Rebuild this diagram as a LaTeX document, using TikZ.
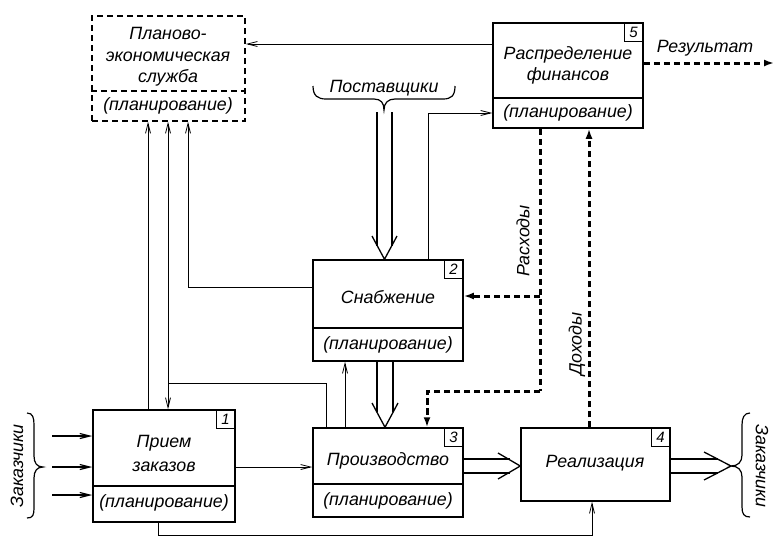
\documentclass[tikz,border=0pt]{standalone}
\usepackage{fontspec}
\setmainfont{Liberation Sans}
\usetikzlibrary{arrows.meta,calc}
\begin{document}
\begin{tikzpicture}[x=1pt,y=-1pt,
  blk/.style={draw, line width=1.5pt, inner sep=0pt},
  dblk/.style={draw, line width=1.5pt, inner sep=0pt, dash pattern=on 6pt off 4pt},
  divider/.style={line width=1.5pt},
  txt/.style={font=\fontsize{17.8}{20}\selectfont\itshape, inner sep=0pt, align=center},
  num/.style={draw, line width=1.2pt, minimum size=19pt, inner sep=0pt, anchor=north east, font=\fontsize{15}{15}\selectfont\itshape},
  thinarr/.style={line width=0.8pt, -{Straight Barb[length=10pt,width=5pt]}},
  thinln/.style={line width=0.8pt},
  dasharr/.style={line width=3pt, dash pattern=on 6.5pt off 3.5pt, -{Latex[length=10pt,width=7pt]}},
  dashln/.style={line width=3pt, dash pattern=on 6.5pt off 3.5pt},
  dbl/.style={line width=1.3pt},
  brc/.style={line width=1.2pt},
]
\useasboundingbox (0,0) rectangle (775,538);

% boxes
\node[dblk, minimum width=153pt, minimum height=105pt] (plan) at (168.5,68.5) {};
\node[blk, minimum width=150pt, minimum height=105pt] (fin) at (568,75.5) {};
\node[blk, minimum width=150pt, minimum height=101pt] (sup) at (388,310.5) {};
\node[blk, minimum width=142pt, minimum height=112pt] (ord) at (164,466) {};
\node[blk, minimum width=150pt, minimum height=89pt] (prod) at (388,472.5) {};
\node[blk, minimum width=149pt, minimum height=73pt] (real) at (595.5,464.5) {};

% dividers
\draw[divider, dash pattern=on 6pt off 4pt] (plan.west |- 0,91) -- (plan.east |- 0,91);
\draw[divider] (fin.west |- 0,98) -- (fin.east |- 0,98);
\draw[divider] (sup.west |- 0,328) -- (sup.east |- 0,328);
\draw[divider] (ord.west |- 0,486) -- (ord.east |- 0,486);
\draw[divider] (prod.west |- 0,484) -- (prod.east |- 0,484);

% number boxes
\node[num] (n1) at (ord.north east) {1};
\node[num] (n2) at (sup.north east) {2};
\node[num] (n3) at (prod.north east) {3};
\node[num] (n4) at (real.north east) {4};
\node[num] (n5) at (fin.north east) {5};

% texts
\node[txt] (t1) at (168,33) {Планово-};
\node[txt] (t2) at (168,57) {экономическая};
\node[txt] (t3) at (168,78) {служба};
\node[txt] (t4) at (168,106) {(планирование)};
\node[txt] (t5) at (568,55) {Распределение};
\node[txt] (t6) at (568,76) {финансов};
\node[txt] (t7) at (568,113) {(планирование)};
\node[txt] (t8) at (388,297) {Снабжение};
\node[txt] (t9) at (388,345) {(планирование)};
\node[txt] (t10) at (164,443) {Прием};
\node[txt] (t11) at (164,467) {заказов};
\node[txt] (t12) at (164,503) {(планирование)};
\node[txt] (t13) at (388,461) {Производство};
\node[txt] (t14) at (388,501) {(планирование)};
\node[txt] (t15) at (595,463) {Реализация};
\node[txt] (sup0) at (384,88) {Поставщики};
\node[txt, rotate=90] (cl) at (17,466) {Заказчики};
\node[txt, rotate=-90] (cr) at (762,466) {Заказчики};
\node[txt] (resl) at (705,48) {Результат};
\node[txt, rotate=90] (exl) at (523,241) {Расходы};
\node[txt, rotate=90] (inl) at (577,344) {Доходы};

% thin connectors
\draw[thinarr] (fin.west |- 0,44) -- (plan.east |- 0,44);
\draw[thinarr] (ord.north -| 148,0) -- (plan.south -| 148,0);
\coordinate (j1) at (168,383);
\draw[thinarr] (prod.north -| 326,0) |- (j1) -- (plan.south -| 168,0);
\draw[thinarr] (j1) -- (ord.north -| 168,0);
\draw[thinarr] (sup.west |- 0,287) -| (plan.south -| 188,0);
\draw[thinarr] (prod.north -| 345,0) -- (sup.south -| 345,0);
\draw[thinarr] (sup.north -| 428,0) |- (fin.west |- 0,113);
\draw[thinarr] (ord.east |- 0,467) -- (prod.west |- 0,467);
\draw[thinarr] (ord.south -| 158,0) |- (592,535) -- (real.south -| 592,0);

% dashed connectors
\coordinate (e1) at (540,391);
\coordinate (e2) at (540,296);
\draw[dashln] (fin.south -| 540,0) -- (e1);
\draw[dasharr] (e1) -| (prod.north -| 427,0);
\draw[dasharr] (e2) -- (sup.east |- 0,296);
\draw[dasharr] (real.north -| 589,0) -- (fin.south -| 589,0);
\coordinate (res) at (774,63);
\draw[dasharr] (fin.east |- 0,63) -- (res);

% braces
\draw[brc] (313,86) .. controls (313,96) and (318,99) .. (326,99) -- (374,99) .. controls (381,99) and (384,103) .. (384,110)
  .. controls (384,103) and (388,99) .. (395,99) -- (443,99) .. controls (451,99) and (455,96) .. (455,86);
\coordinate (bl) at (43,467);
\draw[brc] (27,413) .. controls (33,413) and (34,418) .. (34,425) -- (34,456) .. controls (34,463) and (37,467) .. (bl)
  .. controls (37,467) and (34,471) .. (34,478) -- (34,508) .. controls (34,515) and (33,518) .. (27,518);
\coordinate (br) at (731,466);
\draw[brc] (750,413) .. controls (744,413) and (742,418) .. (742,425) -- (742,455) .. controls (742,462) and (738,466) .. (br)
  .. controls (738,466) and (742,470) .. (742,477) -- (742,507) .. controls (742,514) and (744,517) .. (750,517);

% customer input arrows
\draw[thinarr, line width=1.2pt] (52,436) -- (ord.west |- 0,436);
\draw[thinarr, line width=1.2pt] (52,467) -- (ord.west |- 0,467);
\draw[thinarr, line width=1.2pt] (52,495) -- (ord.west |- 0,495);

% double arrows
% suppliers -> supply
\draw[dbl] (377,112) -- (377,246) (392,112) -- (392,246);
\draw[dbl] (372,236) -- (sup.north -| 384.5,0) -- (397,236);
% supply -> production
\draw[dbl] (sup.south -| 377,0) -- (377,412) (sup.south -| 393,0) -- (393,412);
\draw[dbl] (372,403) -- (prod.north -| 385,0) -- (398,403);
% production -> realization
\draw[dbl] (prod.east |- 0,459) -- (510,459) (prod.east |- 0,473) -- (510,473);
\draw[dbl] (498,453) -- (real.west |- 0,466) -- (498,479);
% realization -> customers
\draw[dbl] (real.east |- 0,459) -- (718,459) (real.east |- 0,473) -- (718,473);
\draw[dbl] (704,452) -- (br) -- (704,480);
\end{tikzpicture}
\end{document}
